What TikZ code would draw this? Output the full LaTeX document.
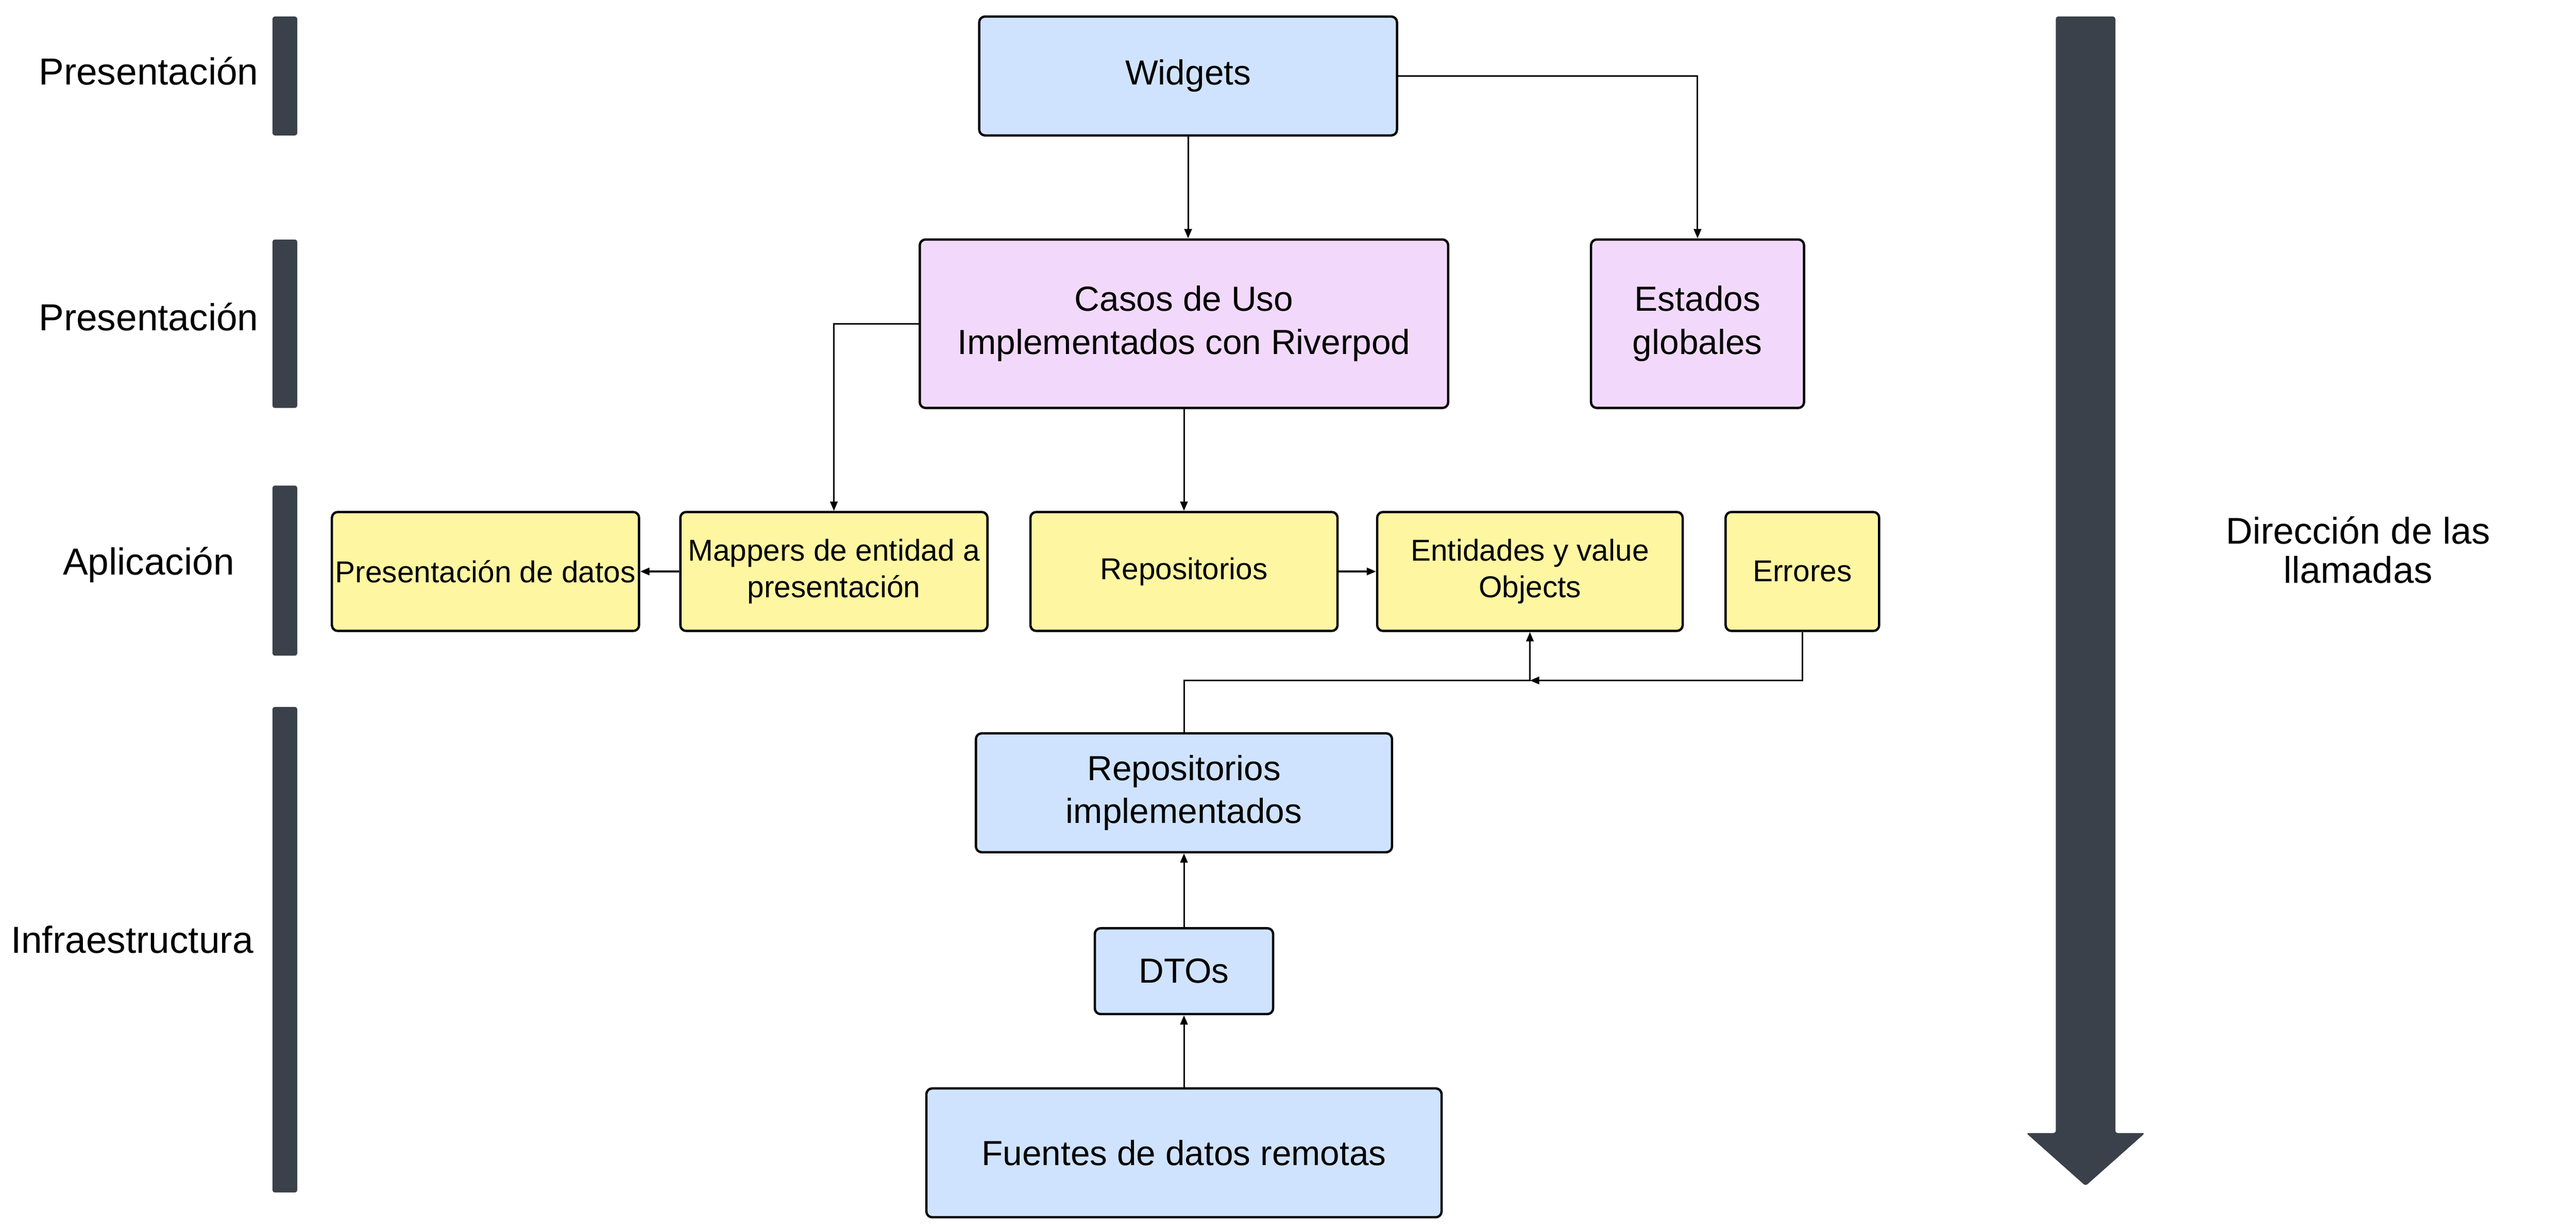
\documentclass[tikz,border=0pt]{standalone}
\usepackage{fontspec}
\setmainfont{Liberation Sans}
\usetikzlibrary{arrows.meta}

\definecolor{azulcaja}{HTML}{CFE3FF}
\definecolor{lilacaja}{HTML}{F2D9FC}
\definecolor{amarillocaja}{HTML}{FFF6A2}
\definecolor{grisbarra}{HTML}{3A414A}

\newcommand\pxu{0.025cm}
\newcommand\textogrande{\fontsize{15}{18.6}\selectfont}
\newcommand\textochico{\fontsize{13}{15.7}\selectfont}
\newcommand\textocapa{\fontsize{16.2}{17}\selectfont}
\newcommand\barracapa[2]{
  \fill[grisbarra, rounded corners=1pt] (165, #1) rectangle (180, #2) ;
}

\tikzset{
  caja/.style={draw, line width=1pt, rounded corners=2.5pt, align=center, inner sep=0pt},
  cajaazul/.style={caja, fill=azulcaja, font=\textogrande},
  cajalila/.style={caja, fill=lilacaja, font=\textogrande, minimum height=102*\pxu},
  cajaamarilla/.style={caja, fill=amarillocaja, font=\textochico, minimum height=72*\pxu},
  flecha/.style={line width=0.7pt, -{Triangle[length=4pt,width=3.2pt]}},
  capa/.style={font=\textocapa, align=center},
}

\begin{document}
\begin{tikzpicture}[x=\pxu, y=-\pxu]
    \useasboundingbox (0,0) rectangle (1560,744) ;

    \barracapa{10}{82}
    \barracapa{145}{247}
    \barracapa{294}{397}
    \barracapa{428}{722}
    \node[capa] (capapres) at (90,43) {Presentación} ;
    \node[capa] (capacasos) at (90,192) {Presentación} ;
    \node[capa] (capaapl) at (90,342) {Aplicación} ;
    \node[capa] (capainfra) at (80,569) {Infraestructura} ;

    \node[cajaazul, minimum width=253*\pxu, minimum height=72*\pxu] (widgets) at (719.5,46) {Widgets} ;
    \node[cajalila, minimum width=320*\pxu] (casos) at (717,196) {Casos de Uso\\Implementados con Riverpod} ;
    \node[cajalila, minimum width=129*\pxu] (estados) at (1028,196) {Estados\\globales} ;

    \node[cajaamarilla, minimum width=186*\pxu] (presdatos) at (294,346) {Presentación de datos} ;
    \node[cajaamarilla, minimum width=186*\pxu] (mappers) at (505,346) {Mappers de entidad a\\presentación} ;
    \node[cajaamarilla, minimum width=186*\pxu] (repos) at (717,346) {Repositorios} ;
    \node[cajaamarilla, minimum width=185*\pxu] (entidades) at (926.5,346) {Entidades y value\\Objects} ;
    \node[cajaamarilla, minimum width=93*\pxu] (errores) at (1091.5,346) {Errores} ;

    \node[cajaazul, minimum width=252*\pxu, minimum height=72*\pxu] (reposimpl) at (717,480) {Repositorios\\implementados} ;
    \node[cajaazul, minimum width=108*\pxu, minimum height=52*\pxu] (dtos) at (717,588) {DTOs} ;
    \node[cajaazul, minimum width=312*\pxu, minimum height=78*\pxu] (fuentes) at (717,698) {Fuentes de datos remotas} ;

    \draw[flecha] (widgets.south) -- (widgets.south |- casos.north) ;
    \draw[flecha] (widgets.east) -| (estados.north) ;
    \draw[flecha] (casos.west) -| (mappers.north) ;
    \draw[flecha] (casos.south) -- (repos.north) ;
    \draw[flecha] (mappers.west) -- (presdatos.east) ;
    \draw[flecha] (repos.east) -- (entidades.west) ;
    \coordinate (union) at (entidades.south |- 0,412) ;
    \draw[flecha] (reposimpl.north) |- (union) -- (entidades.south) ;
    \draw[flecha] (errores.south) |- (union) ;
    \draw[flecha] (fuentes.north) -- (dtos.south) ;
    \draw[flecha] (dtos.north) -- (reposimpl.south) ;

    \fill[grisbarra, rounded corners=1pt] (1245,10) -- (1281,10) -- (1281,686)
       -- (1299,686) -- (1263,718) -- (1227,686) -- (1245,686) -- cycle ;
    \node[capa, font=\fontsize{16}{17}\selectfont] (direccion) at (1428,333) {Dirección de las\\llamadas} ;
\end{tikzpicture}
\end{document}
